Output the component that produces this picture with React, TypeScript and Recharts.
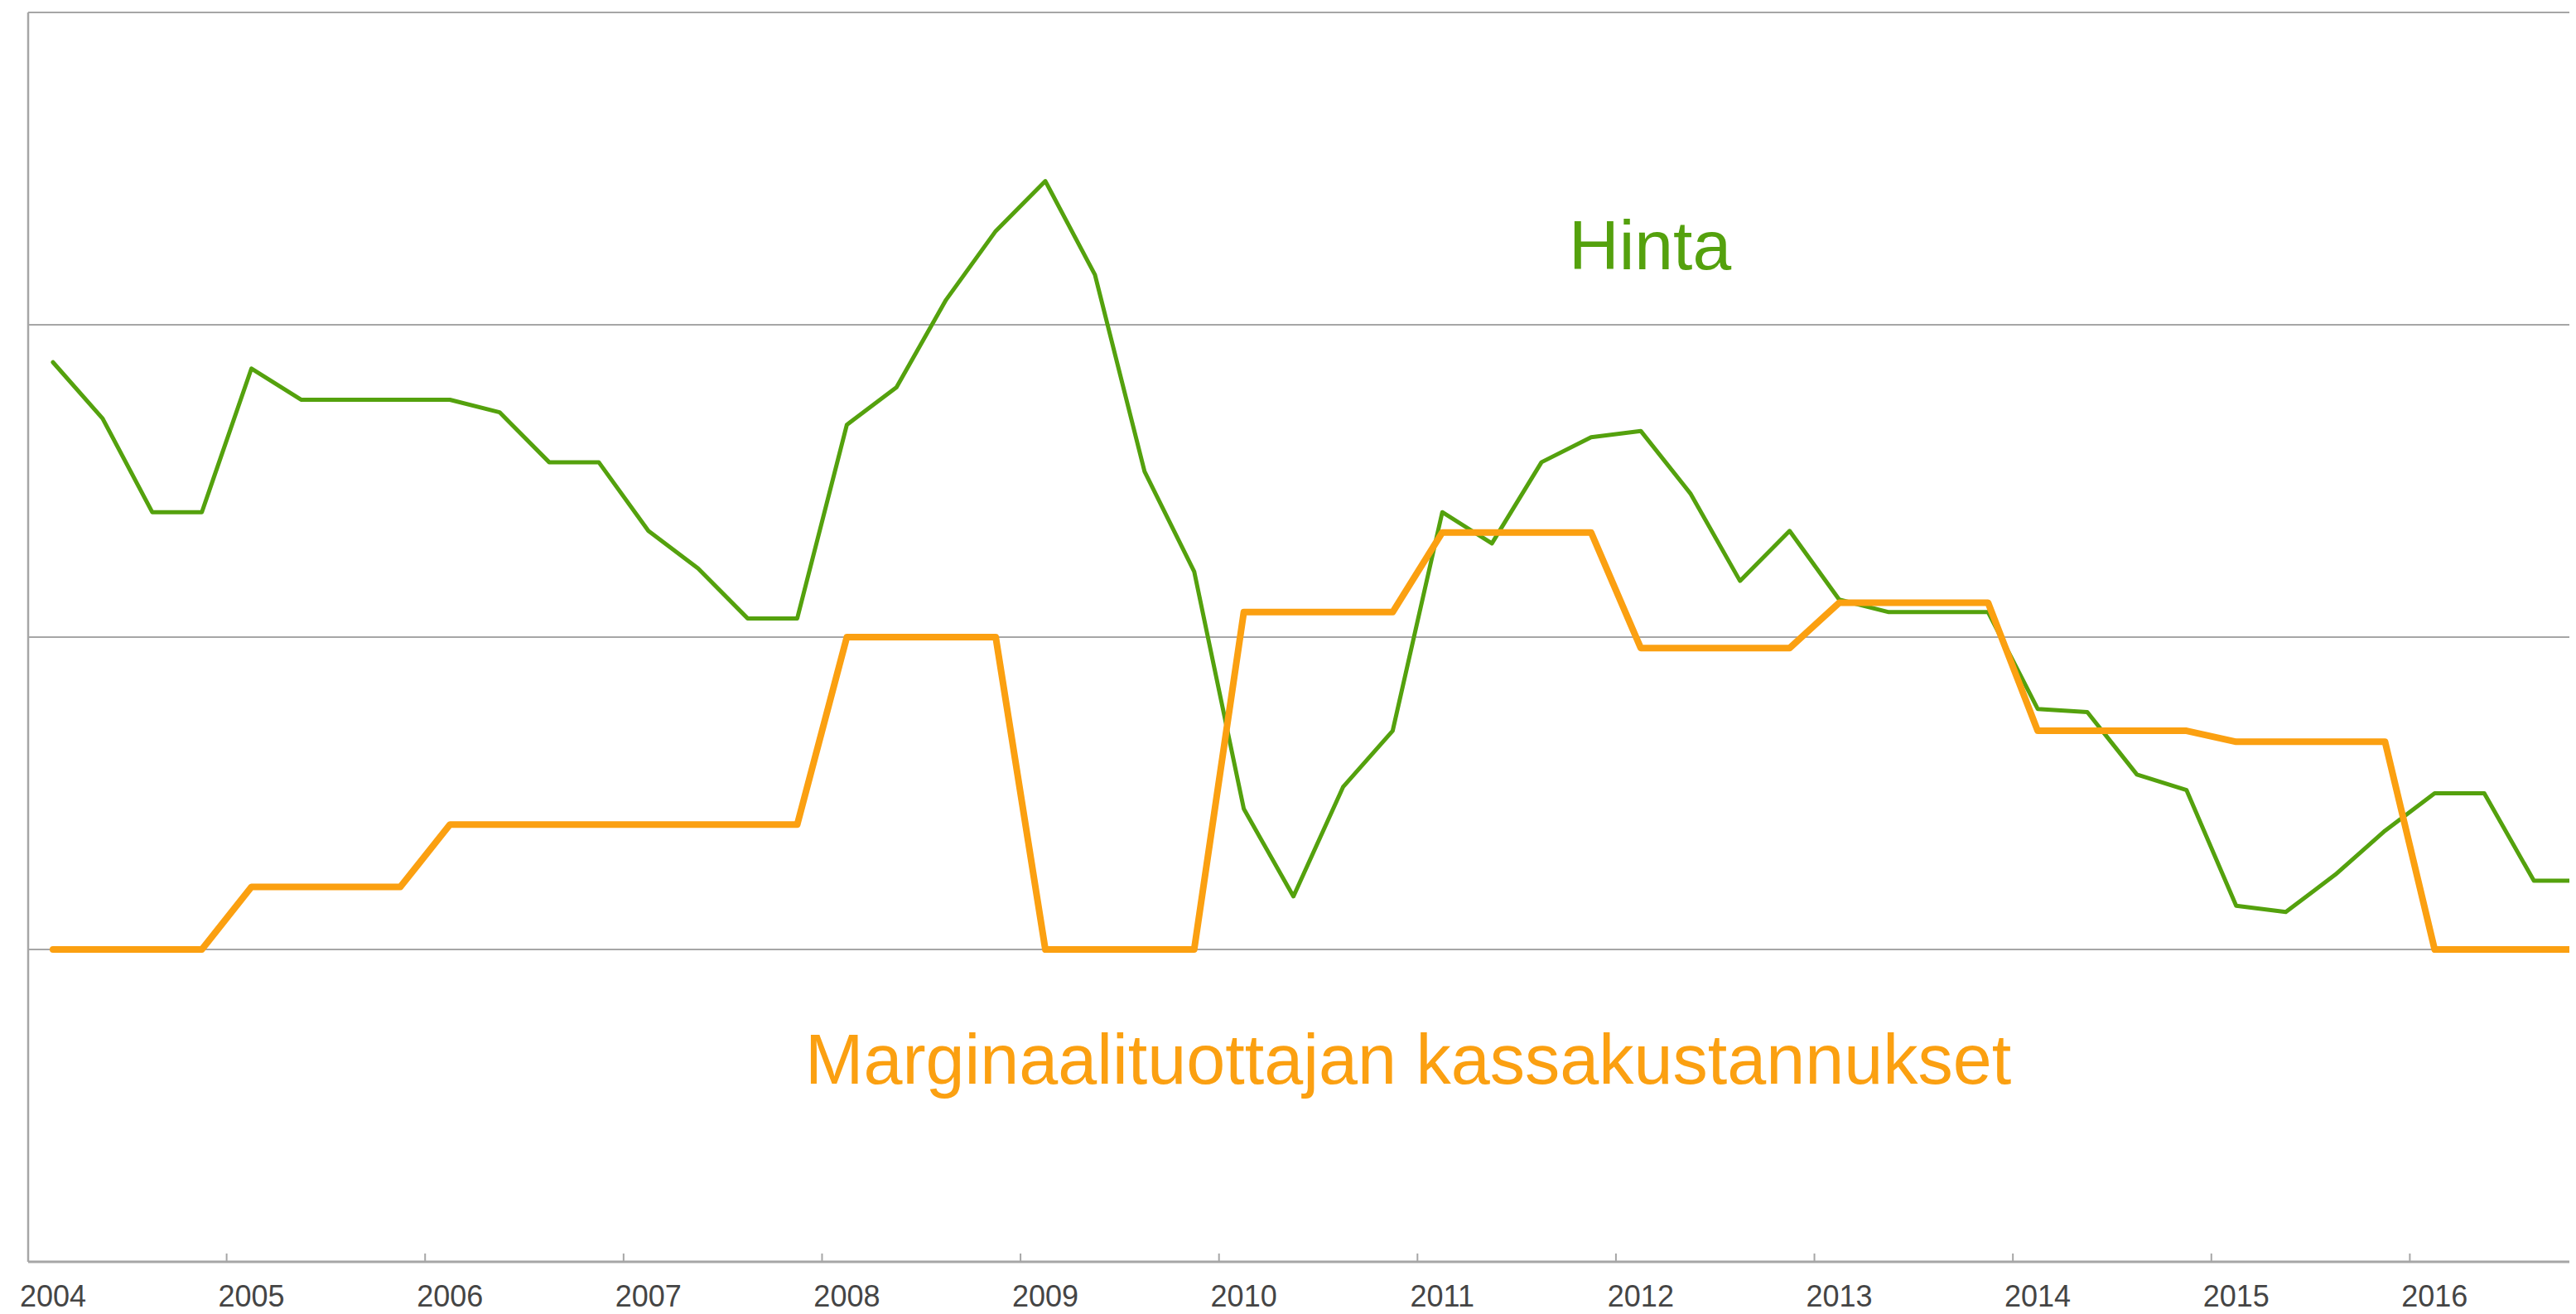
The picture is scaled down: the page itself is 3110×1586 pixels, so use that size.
import React from 'react';
import { LineChart, Line, XAxis, YAxis, ReferenceLine } from 'recharts';

const years = ['2004', '2005', '2006', '2007', '2008', '2009', '2010', '2011', '2012', '2013', '2014', '2015', '2016'];
const quarterNames = ['Q1', 'Q2', 'Q3', 'Q4'];
const categories = years.flatMap((y) => quarterNames.map((q) => `${y} ${q}`));

// Hinta (price), relative units
const hinta = [
  2.88, 2.7, 2.4, 2.4, 2.86, 2.76, 2.76, 2.76,
  2.76, 2.72, 2.56, 2.56, 2.34, 2.22, 2.06, 2.06,
  2.68, 2.8, 3.08, 3.3, 3.46, 3.16, 2.53, 2.21,
  1.45, 1.17, 1.52, 1.7, 2.4, 2.3, 2.56, 2.64,
  2.66, 2.46, 2.18, 2.34, 2.12, 2.08, 2.08, 2.08,
  1.77, 1.76, 1.56, 1.51, 1.14, 1.12, 1.24, 1.38,
  1.5, 1.5, 1.22, 1.22,
];

// Marginaalituottajan kassakustannukset (marginal producer cash cost)
const kassakustannukset = [
  1.0, 1.0, 1.0, 1.0, 1.2, 1.2, 1.2, 1.2,
  1.4, 1.4, 1.4, 1.4, 1.4, 1.4, 1.4, 1.4,
  2.0, 2.0, 2.0, 2.0, 1.0, 1.0, 1.0, 1.0,
  2.08, 2.08, 2.08, 2.08, 2.335, 2.335, 2.335, 2.335,
  1.965, 1.965, 1.965, 1.965, 2.11, 2.11, 2.11, 2.11,
  1.7, 1.7, 1.7, 1.7, 1.665, 1.665, 1.665, 1.665,
  1.0, 1.0, 1.0, 1.0,
];

const yTicks = [0, 1, 2, 3, 4];
const gridValues = [1, 2, 3, 4];

const seriesLabels = {
  hinta: 'Hinta',
  kassa: 'Marginaalituottajan kassakustannukset',
};

const data = categories.map((c, i) => ({
  kausi: c,
  hinta: hinta[i],
  kassa: kassakustannukset[i],
}));

const GREEN = '#54A10D';
const ORANGE = '#FBA011';
const GRID = '#A6A6A6';
const FONT = '"Liberation Sans", Arial, Helvetica, sans-serif';

const CHART_W = 3180;
const CHART_H = 1578;
const MARGIN = { top: 7, right: 39, left: 25, bottom: 0 };
const Y_AXIS_W = 1;
const PLOT_W = CHART_W - MARGIN.left - MARGIN.right - Y_AXIS_W;
const STEP = PLOT_W / categories.length;

const YearTick = (props: any) => {
  const { x, y, payload } = props;
  const bx = x - STEP / 2;
  return (
    <g>
      <line x1={bx} x2={bx} y1={y} y2={y - 10} stroke={GRID} strokeWidth={2} />
      <text
        x={x}
        y={y + 54}
        textAnchor="middle"
        fill="#454545"
        fontSize={36}
        fontFamily={FONT}
      >
        {String(payload.value).slice(0, 4)}
      </text>
    </g>
  );
};

const EmptyTick = () => <g />;

export default function App() {
  return (
    <div style={{ position: 'relative', width: 3102, height: 1578, overflow: 'hidden', background: '#fff' }}>
      <LineChart width={CHART_W} height={CHART_H} data={data} margin={MARGIN}>
        <XAxis
          dataKey="kausi"
          interval={3}
          padding={{ left: STEP / 2, right: STEP / 2 }}
          height={63}
          tickSize={0}
          tickMargin={0}
          tickLine={false}
          axisLine={{ stroke: GRID, strokeWidth: 3 }}
          tick={<YearTick />}
        />
        <YAxis
          width={Y_AXIS_W}
          domain={[0, 4]}
          ticks={yTicks}
          tick={<EmptyTick />}
          tickLine={false}
          axisLine={{ stroke: GRID, strokeWidth: 2.5 }}
        />
        {gridValues.map((v) => (
          <ReferenceLine key={v} y={v} stroke={GRID} strokeWidth={2} ifOverflow="visible" />
        ))}
        <Line
          dataKey="hinta"
          name={seriesLabels.hinta}
          type="linear"
          stroke={GREEN}
          strokeWidth={5}
          dot={false}
          strokeLinejoin="round"
          strokeLinecap="round"
          isAnimationActive={false}
        />
        <Line
          dataKey="kassa"
          name={seriesLabels.kassa}
          type="linear"
          stroke={ORANGE}
          strokeWidth={8}
          dot={false}
          strokeLinejoin="round"
          strokeLinecap="round"
          isAnimationActive={false}
        />
      </LineChart>
      <svg
        width={3102}
        height={1578}
        style={{ position: 'absolute', left: 0, top: 0, pointerEvents: 'none' }}
      >
        <text x={1886} y={317} fill={GREEN} fontSize={84} fontFamily={FONT}>
          {seriesLabels.hinta}
        </text>
        <text x={964} y={1300} fill={ORANGE} fontSize={84.5} fontFamily={FONT}>
          {seriesLabels.kassa}
        </text>
      </svg>
    </div>
  );
}
